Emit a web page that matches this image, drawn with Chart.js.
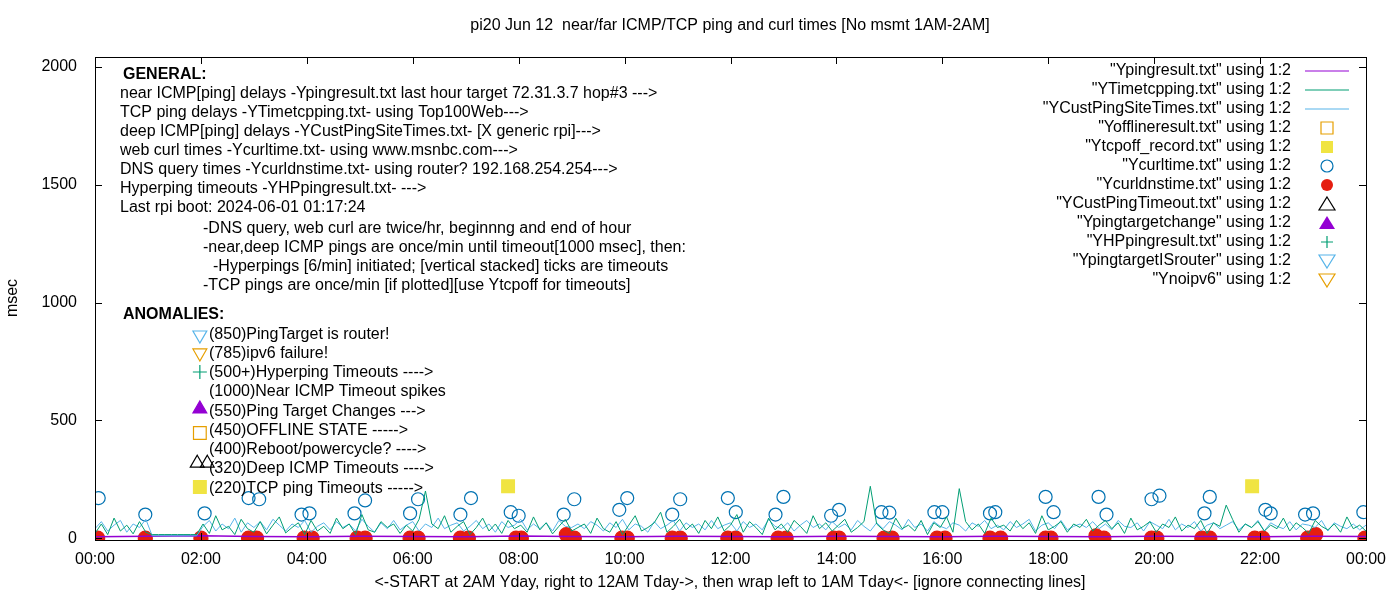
<!DOCTYPE html>
<html>
<head>
<meta charset="UTF-8">
<script src="https://cdn.jsdelivr.net/npm/chart.js"></script>
<style>
  body { margin: 0; background: #fff; }
  #wrap { width: 1400px; height: 600px; }
</style>
</head>
<body>
<div id="wrap"><canvas id="c"></canvas></div>
<script>
// hours since 00:00
const tickHours = [0, 2, 4, 6, 8, 10, 12, 14, 16, 18, 20, 22, 24];
const yTicks = [0, 500, 1000, 1500, 2000];

// near ICMP (hourly samples)
const pingHours = [0,1,2,3,4,5,6,7,8,9,10,11,12,13,14,15,16,17,18,19,20,21,22,23,24];
const pingVals = [6,8,10,7,6,8,7,6,9,7,6,8,7,6,8,7,6,8,7,6,8,7,6,8,7];

// TCP ping and deep ICMP, one sample every 0.12 h
const STEP = 0.12;
const tcpVals = [20,60,15,85,30,55,18,70,25, 15,15,15,15,15,15,15,15,
 60,20,95,35,50,15,80,40,25,70,18,55,90,22,45,65,15,75,30,50,
 20,85,40,60,15,100,35,25,70,45,60,20,55,30,80,200,60,40,95,25,
 50,70,15,45,85,30,60,20,75,40,55,25,90,35,65,18,50,80,30,45,
 60,20,85,40,25,70,15,55,95,30,45,65,110,25,50,80,35,60,20,75,
 40,90,30,55,100,25,70,45,15,85,35,60,25,75,50,20,95,40,65,30,
 55,80,25,45,70,220,60,35,20,85,40,55,30,75,15,65,45,90,25,210,
 70,35,60,20,85,45,55,30,75,40,65,20,95,35,50,70,25,60,45,80,
 30,55,75,40,65,20,85,35,50,70,25,60,45,90,30,55,40,75,20,65,
 50,140,80,25,60,45,70,30,55,40,85,30,65,45,20,75,50,35,60,25,90,40,55,30];
const deepVals = [40,70,30,55,75,25,60,45,80, 10,10,10,10,10,10,10,10,
 50,75,30,60,40,85,25,65,45,70,35,80,55,30,60,45,75,25,50,65,
 35,70,45,60,30,80,50,25,65,40,75,35,55,70,30,60,45,85,40,55,
 65,30,50,75,40,60,25,70,45,55,80,35,60,40,65,30,75,50,45,60,
 40,70,55,30,65,45,80,35,60,50,25,70,40,55,75,30,65,45,60,35,
 75,40,55,65,30,70,45,60,35,80,50,40,65,30,55,75,45,60,35,70,
 45,60,35,75,50,30,65,40,70,55,35,80,45,60,30,70,50,40,65,55,
 30,65,50,75,40,55,35,70,45,60,80,30,55,65,40,75,35,50,60,45,
 70,40,60,35,75,50,45,65,30,70,55,40,80,35,60,45,70,30,55,65,
 40,55,70,35,60,45,75,30,65,50,40,70,35,60,55,45,75,30,65,50,40,60,35,55];

const curlHours = [0.07,0.95,2.07,2.9,3.1,3.9,4.05,4.9,5.1,5.95,6.1,6.9,7.1,7.85,8.0,8.85,9.05,9.9,10.05,10.9,11.05,11.95,12.1,12.85,13.0,13.9,14.05,14.85,15.0,15.85,16.0,16.9,17.0,17.95,18.1,18.95,19.1,19.95,20.1,20.95,21.05,22.1,22.2,22.85,23.0,23.95];
const curlVals = [170,100,105,170,165,100,105,105,160,105,165,100,170,110,95,100,165,120,170,100,165,170,110,100,175,95,120,110,108,110,110,105,110,175,110,175,100,165,180,105,175,120,105,100,105,110];

const dnsHours = [0.05,0.95,2.0,2.9,3.05,3.95,4.1,4.95,5.1,5.95,6.1,6.9,7.05,7.95,8.05,8.9,9.05,9.95,10.05,10.9,11.05,11.95,12.1,12.9,13.05,13.95,14.05,14.9,15.05,15.9,16.05,16.9,17.1,17.95,18.05,18.9,19.05,19.95,20.05,20.9,21.05,21.9,22.05,22.9,23.05,23.98];
const dnsVals = [0,0,0,0,0,0,0,0,0,0,0,0,0,0,0,15,0,0,0,0,0,0,0,0,0,0,0,0,0,0,0,0,0,0,0,10,0,0,0,0,0,0,0,0,15,0];

const tcpOffHours = [1.98, 7.8, 21.85];
const tcpOffVals = [217, 220, 220];
const offlineHours = [1.98]; const offlineVals = [446];
const deepTimeoutHours = [1.93, 2.12]; const deepTimeoutVals = [318, 318];
const targetChangeHours = [1.98]; const targetChangeVals = [548];
const hyperHours = [1.98]; const hyperVals = [705];
const routerHours = [1.98]; const routerVals = [862];
const noipv6Hours = [1.98]; const noipv6Vals = [786];

const pts = (xs, ys) => xs.map((x, i) => ({ x, y: ys[i] }));
const stepPts = ys => ys.map((y, i) => ({ x: i * STEP, y }));

const legendRows = [
  ['"Ypingresult.txt" using 1:2', 'line', '#9400d3'],
  ['"YTimetcpping.txt" using 1:2', 'line', '#009e73'],
  ['"YCustPingSiteTimes.txt" using 1:2', 'line', '#56b4e9'],
  ['"Yofflineresult.txt" using 1:2', 'rect', '#e69f00', false],
  ['"Ytcpoff_record.txt" using 1:2', 'rect', '#f0e442', true],
  ['"Ycurltime.txt" using 1:2', 'circle', '#0072b2', false],
  ['"Ycurldnstime.txt" using 1:2', 'circle', '#e51e10', true],
  ['"YCustPingTimeout.txt" using 1:2', 'triangle', '#000000', false],
  ['"Ypingtargetchange" using 1:2', 'triangle', '#9400d3', true],
  ['"YHPpingresult.txt" using 1:2', 'cross', '#009e73', false],
  ['"YpingtargetISrouter" using 1:2', 'invtri', '#56b4e9', false],
  ['"Ynoipv6" using 1:2', 'invtri', '#e69f00', false]
];

const generalLines = [
  [120, 94, 'near ICMP[ping] delays -Ypingresult.txt last hour target 72.31.3.7 hop#3 --->'],
  [120, 113, 'TCP ping delays -YTimetcpping.txt- using Top100Web--->'],
  [120, 132, 'deep ICMP[ping] delays -YCustPingSiteTimes.txt- [X generic rpi]--->'],
  [120, 151, 'web curl times -Ycurltime.txt- using www.msnbc.com--->'],
  [120, 170, 'DNS query times -Ycurldnstime.txt- using router? 192.168.254.254--->'],
  [120, 189, 'Hyperping timeouts -YHPpingresult.txt- --->'],
  [120, 208, 'Last rpi boot: 2024-06-01 01:17:24'],
  [203, 229, '-DNS query, web curl are twice/hr, beginnng and end of hour'],
  [203, 248, '-near,deep ICMP pings are once/min until timeout[1000 msec], then:'],
  [213, 267, '-Hyperpings [6/min] initiated; [vertical stacked] ticks are timeouts'],
  [203, 286, '-TCP pings are once/min [if plotted][use Ytcpoff for timeouts]'],
  [209, 335, '(850)PingTarget is router!'],
  [209, 354, '(785)ipv6 failure!'],
  [209, 373, '(500+)Hyperping Timeouts ---->'],
  [209, 392, '(1000)Near ICMP Timeout spikes'],
  [209, 412, '(550)Ping Target Changes --->'],
  [209, 431, '(450)OFFLINE STATE ----->'],
  [209, 450, '(400)Reboot/powercycle? ---->'],
  [209, 469, '(320)Deep ICMP Timeouts ---->'],
  [209, 489, '(220)TCP ping Timeouts ----->']
];

const FONT = '16px "Liberation Sans", Arial, sans-serif';

function drawMarker(ctx, kind, color, filled, x, y) {
  ctx.save();
  ctx.strokeStyle = color; ctx.fillStyle = color; ctx.lineWidth = 1.2;
  ctx.beginPath();
  if (kind === 'line') { ctx.moveTo(x - 22, y); ctx.lineTo(x + 22, y); ctx.stroke(); ctx.restore(); return; }
  if (kind === 'rect') ctx.rect(x - 6, y - 6, 12, 12);
  if (kind === 'circle') ctx.arc(x, y, 6, 0, Math.PI * 2);
  if (kind === 'triangle') { ctx.moveTo(x, y - 7); ctx.lineTo(x + 8, y + 6); ctx.lineTo(x - 8, y + 6); ctx.closePath(); }
  if (kind === 'invtri') { ctx.moveTo(x, y + 7); ctx.lineTo(x + 8, y - 6); ctx.lineTo(x - 8, y - 6); ctx.closePath(); }
  if (kind === 'cross') { ctx.moveTo(x - 6, y); ctx.lineTo(x + 6, y); ctx.moveTo(x, y - 6); ctx.lineTo(x, y + 6); }
  if (filled) ctx.fill(); else ctx.stroke();
  ctx.restore();
}

const decor = {
  id: 'decor',
  afterDraw(chart) {
    const ctx = chart.ctx, a = chart.chartArea;
    const xs = chart.scales.x, ys = chart.scales.y;
    ctx.save();
    ctx.strokeStyle = '#000'; ctx.lineWidth = 1;
    ctx.strokeRect(a.left + 0.5, a.top + 0.5, a.right - a.left, a.bottom - a.top);
    ctx.beginPath();
    tickHours.forEach(h => {
      const px = Math.round(xs.getPixelForValue(h)) + 0.5;
      ctx.moveTo(px, a.bottom); ctx.lineTo(px, a.bottom - 7);
      ctx.moveTo(px, a.top); ctx.lineTo(px, a.top + 7);
    });
    yTicks.forEach(v => {
      const py = Math.round(ys.getPixelForValue(v)) + 0.5;
      ctx.moveTo(a.left, py); ctx.lineTo(a.left + 7, py);
      ctx.moveTo(a.right, py); ctx.lineTo(a.right - 7, py);
    });
    ctx.stroke();
    ctx.fillStyle = '#000';
    ctx.font = FONT;
    ctx.textAlign = 'center'; ctx.textBaseline = 'middle';
    ctx.fillText('pi20 Jun 12  near/far ICMP/TCP ping and curl times [No msmt 1AM-2AM]', 730, 26);
    ctx.fillText('<-START at 2AM Yday, right to 12AM Tday->, then wrap left to 1AM Tday<- [ignore connecting lines]', 730, 583);
    ctx.save(); ctx.translate(13, 298); ctx.rotate(-Math.PI / 2); ctx.fillText('msec', 0, 0); ctx.restore();
    ctx.textAlign = 'left';
    ctx.font = 'bold ' + FONT;
    ctx.fillText('GENERAL:', 123, 75);
    ctx.fillText('ANOMALIES:', 123, 315);
    ctx.font = FONT;
    generalLines.forEach(([x, y, t]) => ctx.fillText(t, x, y));
    ctx.textAlign = 'right';
    legendRows.forEach((r, i) => {
      const y = 71 + i * 19;
      ctx.fillText(r[0], 1291, y);
      drawMarker(ctx, r[1], r[2], r[3], 1327, y);
    });
    ctx.restore();
  }
};

const ptDs = (data, style, color, filled, r, rot) => ({
  type: 'scatter', data, showLine: false,
  pointStyle: style, pointRadius: r || 6, rotation: rot || 0,
  borderColor: color, backgroundColor: filled ? color : 'rgba(0,0,0,0)',
  pointBorderWidth: 1.2
});

new Chart(document.getElementById('c'), {
  type: 'scatter',
  data: {
    datasets: [
      { data: stepPts(tcpVals), showLine: true, borderColor: '#009e73', borderWidth: 1, pointRadius: 0 },
      { data: stepPts(deepVals), showLine: true, borderColor: '#56b4e9', borderWidth: 1, pointRadius: 0 },
      { data: pts(pingHours, pingVals), showLine: true, borderColor: '#9400d3', borderWidth: 1.5, pointRadius: 0 },
      ptDs(pts(tcpOffHours, tcpOffVals), 'rect', '#f0e442', true, 9),
      ptDs(pts(offlineHours, offlineVals), 'rect', '#e69f00', false, 9),
      ptDs(pts(curlHours, curlVals), 'circle', '#0072b2', false, 6.5),
      ptDs(pts(dnsHours, dnsVals), 'circle', '#e51e10', true, 7),
      ptDs(pts(deepTimeoutHours, deepTimeoutVals), 'triangle', '#000000', false, 8),
      ptDs(pts(targetChangeHours, targetChangeVals), 'triangle', '#9400d3', true, 8),
      ptDs(pts(hyperHours, hyperVals), 'cross', '#009e73', false, 7),
      ptDs(pts(routerHours, routerVals), 'triangle', '#56b4e9', false, 8, 180),
      ptDs(pts(noipv6Hours, noipv6Vals), 'triangle', '#e69f00', false, 8, 180)
    ]
  },
  options: {
    responsive: true, maintainAspectRatio: false, animation: false,
    layout: { padding: { top: 57, right: 34, left: 0, bottom: 0 } },
    plugins: { legend: { display: false }, tooltip: { enabled: false } },
    scales: {
      x: {
        type: 'linear', min: 0, max: 24,
        afterBuildTicks: s => { s.ticks = tickHours.map(v => ({ value: v })); },
        afterFit: s => { s.height = 60; },
        grid: { display: false }, border: { display: false },
        ticks: { color: '#000', font: { family: 'Liberation Sans', size: 16 }, padding: 2,
          callback: v => String(v % 24 === 0 ? 0 : v).padStart(2, '0') + ':00' }
      },
      y: {
        min: -8, max: 2042,
        afterBuildTicks: s => { s.ticks = yTicks.map(v => ({ value: v })); },
        afterFit: s => { s.width = 95; },
        grid: { display: false }, border: { display: false },
        ticks: { color: '#000', font: { family: 'Liberation Sans', size: 16 }, padding: 10,
          callback: v => String(v) }
      }
    }
  },
  plugins: [decor]
});
</script>
</body>
</html>
